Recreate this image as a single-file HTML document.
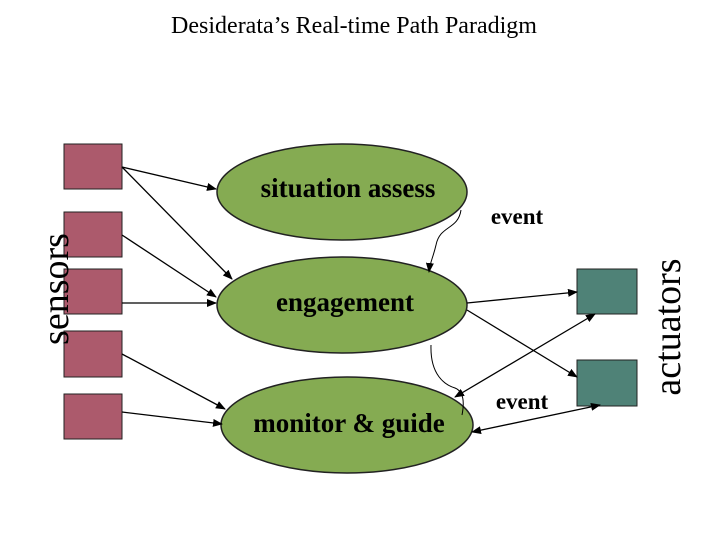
<!DOCTYPE html>
<html><head><style>
body{margin:0;width:720px;height:540px;background:#fff;overflow:hidden}
svg{display:block}
</style></head><body>
<svg width="720" height="540" viewBox="0 0 720 540" font-family="Liberation Serif, serif">
<defs><marker id="a" markerWidth="10" markerHeight="8" refX="9" refY="4" orient="auto-start-reverse" markerUnits="userSpaceOnUse"><path d="M0,0 L10,4 L0,8 z" fill="#000"/></marker></defs>
<text x="354" y="33" font-size="24" text-anchor="middle">Desiderata’s Real-time Path Paradigm</text>
<g fill="#ac5a6c" stroke="#222" stroke-width="1">
<rect x="64" y="144" width="58" height="45"/>
<rect x="64" y="212" width="58" height="45"/>
<rect x="64" y="269" width="58" height="45"/>
<rect x="64" y="331" width="58" height="46"/>
<rect x="64" y="394" width="58" height="45"/>
</g>
<text transform="translate(68,289) rotate(-90)" font-size="38" text-anchor="middle">sensors</text>
<g fill="#4f8277" stroke="#222">
<rect x="577" y="269" width="60" height="45"/>
<rect x="577" y="360" width="60" height="46"/>
</g>
<text transform="translate(680,327) rotate(-90)" font-size="38" text-anchor="middle">actuators</text>
<g fill="#85ab52" stroke="#222" stroke-width="1.5">
<ellipse cx="342" cy="192" rx="125" ry="48"/>
<ellipse cx="342" cy="305" rx="125" ry="48"/>
<ellipse cx="347" cy="425" rx="126" ry="48"/>
</g>
<g font-weight="bold" font-size="27" text-anchor="middle">
<text x="348" y="197">situation assess</text>
<text x="345" y="311">engagement</text>
<text x="349" y="432">monitor &amp; guide</text>
<text x="517" y="224" font-size="23">event</text>
<text x="522" y="409" font-size="23">event</text>
</g>
<g stroke="#000" stroke-width="1.3" fill="none" marker-end="url(#a)">
<line x1="122" y1="167" x2="216" y2="189"/>
<line x1="122" y1="167" x2="232" y2="279"/>
<line x1="122" y1="235" x2="216" y2="297"/>
<line x1="122" y1="303" x2="216" y2="303"/>
<line x1="122" y1="354" x2="225" y2="409"/>
<line x1="122" y1="412" x2="222" y2="424"/>
<line x1="467" y1="303" x2="577" y2="292"/>
<line x1="467" y1="310" x2="577" y2="377"/>
<line x1="455" y1="397" x2="595" y2="314" marker-start="url(#a)"/>
<line x1="472" y1="432" x2="600" y2="405" marker-start="url(#a)"/>
<path d="M461,210 C458,230 440,225 436,245 C433,258 430,262 429,272" stroke-width="1"/>
<path d="M431,345 C430,375 445,385 455,388 C465,392 464,405 462,415" stroke-width="1" marker-end="none"/>
</g>
</svg>
</body></html>
